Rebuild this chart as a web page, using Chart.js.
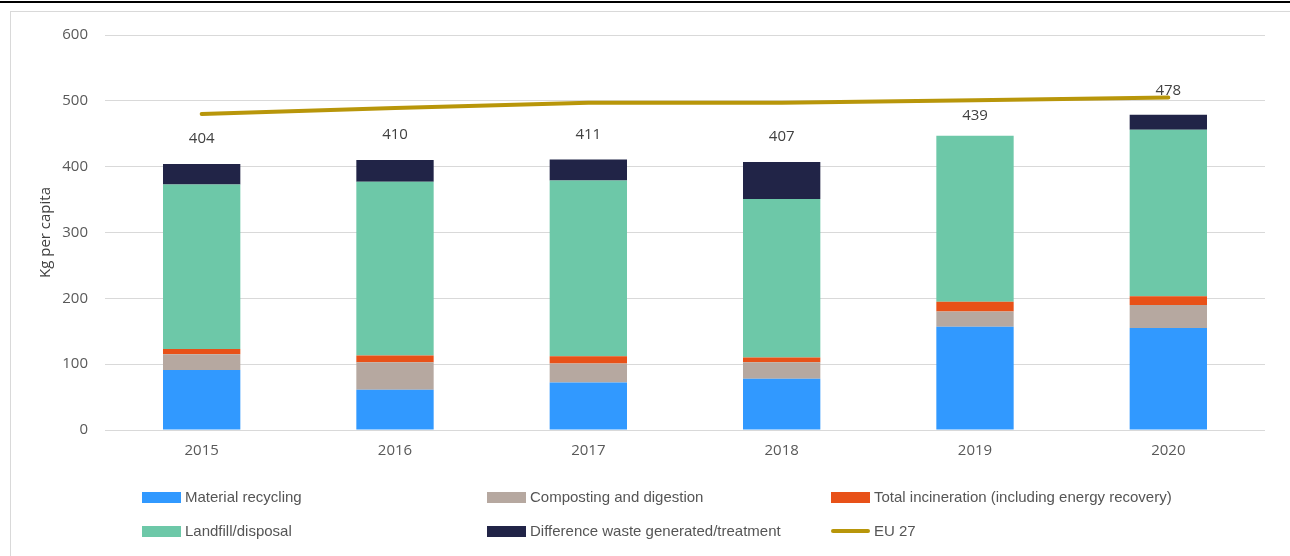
<!DOCTYPE html>
<html>
<head>
<meta charset="utf-8">
<script src="https://cdn.jsdelivr.net/npm/chart.js@4.4.0/dist/chart.umd.min.js"></script>
<style>
	html, body { margin: 0; padding: 0; background: #fff; }
	#wrap { position: relative; width: 1290px; height: 556px; overflow: hidden; }
	#topLine { position: absolute; left: 0; top: 1px; width: 1290px; height: 2px; background: #000; }
	#frame { position: absolute; left: 10px; top: 11px; width: 1300px; height: 600px;
		border-left: 1px solid #d9d9d9; border-top: 1px solid #d9d9d9; }
	#chart { position: absolute; left: 0; top: 0; }
	.lg { position: absolute; font-family: "Liberation Sans Narrow", "Liberation Sans", sans-serif;
		font-size: 15px; color: #555; line-height: 16px; white-space: nowrap; }
	.sw { position: absolute; width: 39px; height: 11px; }
</style>
</head>
<body>
<div id="wrap">
	<div id="topLine"></div>
	<div id="frame"></div>
	<canvas id="chart" width="1290" height="556"></canvas>
	<div id="legend"></div>
</div>
<script>
"use strict";

// 1: data
const years = ["2015", "2016", "2017", "2018", "2019", "2020"];
const recycling = [91, 61, 72, 78, 157, 155];
const composting = [24, 42, 29, 25, 23, 35];
const incineration = [8, 10, 11, 7, 15, 13];
const landfill = [250, 264, 267, 241, 252, 253];
const difference = [31, 33, 32, 56, 0, 23];
const eu27 = [480, 489, 497, 497, 501, 505];
const totals = [404, 410, 411, 407, 439, 478];
const yTicks = [0, 100, 200, 300, 400, 500, 600];

const seriesNames = ["Material recycling", "Composting and digestion", "Total incineration (including energy recovery)",
	"Landfill/disposal", "Difference waste generated/treatment", "EU 27"];
const seriesColors = ["#3199FF", "#B6A8A0", "#E85118", "#6DC8A8", "#212447", "#B8960A"];

// 2: totals above the bars
const totalLabels = {
	id: "totalLabels",
	afterDatasetsDraw(chart) {
		const ctx = chart.ctx;
		const x = chart.scales.x;
		const y = chart.scales.y;
		ctx.save();
		ctx.font = "15px 'Open Sans', sans-serif";
		ctx.fillStyle = "#404040";
		ctx.textAlign = "center";
		ctx.textBaseline = "middle";
		totals.forEach((t, i) => {
			ctx.fillText(String(t), x.getPixelForValue(i), y.getPixelForValue(t) - 25);
		});
		ctx.restore();
	}
};

// 3: chart
const barData = [recycling, composting, incineration, landfill, difference];
const datasets = barData.map((d, i) => ({
	type: "bar",
	label: seriesNames[i],
	data: d,
	backgroundColor: seriesColors[i],
	borderWidth: 0,
	stack: "waste",
	order: 2,
	barPercentage: 0.8,
	categoryPercentage: 0.5
}));
datasets.push({
	type: "line",
	label: seriesNames[5],
	data: eu27,
	borderColor: seriesColors[5],
	borderWidth: 4,
	borderCapStyle: "round",
	pointRadius: 0,
	tension: 0,
	fill: false,
	order: 1
});

new Chart(document.getElementById("chart"), {
	data: { labels: years, datasets },
	plugins: [totalLabels],
	options: {
		responsive: false,
		animation: false,
		layout: { padding: { top: 35, right: 25, left: 0, bottom: 0 } },
		plugins: { legend: { display: false }, tooltip: { enabled: false } },
		scales: {
			x: {
				stacked: true,
				grid: { display: false, drawTicks: false },
				border: { display: false },
				ticks: { color: "#595959", font: { family: "'Open Sans', sans-serif", size: 15 }, padding: 12 },
				afterFit(s) { s.height = 126; }
			},
			y: {
				stacked: true,
				min: 0,
				max: 600,
				afterBuildTicks(s) { s.ticks = yTicks.map(v => ({ value: v })); },
				grid: { color: "#d9d9d9", lineWidth: 1, drawTicks: false },
				border: { display: false },
				ticks: { color: "#595959", font: { family: "'Open Sans', sans-serif", size: 15 }, padding: 17 },
				title: {
					display: true,
					text: "Kg per capita",
					color: "#404040",
					font: { family: "'Open Sans', sans-serif", size: 15 },
					padding: { top: 37, bottom: 0 }
				},
				afterFit(s) { s.width = 105; }
			}
		}
	}
});

// 4: legend
const legend = document.getElementById("legend");
const colX = [142, 487, 831];
const rowY = [497, 531];
seriesNames.forEach((name, i) => {
	const cx = colX[i % 3];
	const cy = rowY[Math.floor(i / 3)];
	const sw = document.createElement("div");
	sw.className = "sw";
	sw.style.left = cx + "px";
	if (i === 5) {
		sw.style.top = (cy - 2) + "px";
		sw.style.height = "4px";
		sw.style.borderRadius = "2px";
	} else {
		sw.style.top = (cy - 5) + "px";
	}
	sw.style.background = seriesColors[i];
	legend.appendChild(sw);
	const t = document.createElement("div");
	t.className = "lg";
	t.style.left = (cx + 43) + "px";
	t.style.top = (cy - 8) + "px";
	t.textContent = name;
	legend.appendChild(t);
});
</script>
</body>
</html>
